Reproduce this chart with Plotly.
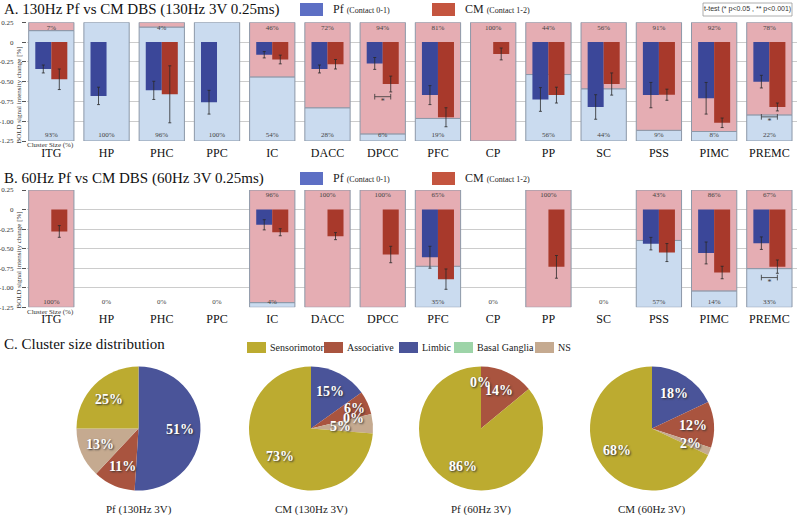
import math
import plotly.graph_objects as go

# ---------------------------------------------------------------------------
# data
# ---------------------------------------------------------------------------
regions = ['ITG', 'HP', 'PHC', 'PPC', 'IC', 'DACC', 'DPCC', 'PFC', 'CP', 'PP', 'SC', 'PSS', 'PIMC', 'PREMC']

# A. 130Hz
pf_130 = [-0.34, -0.68, -0.61, -0.76, -0.16, -0.34, -0.27, -0.67, None, -0.725, -0.82, -0.67, -0.71, -0.50]
pf_130_err = [0.05, 0.11, 0.115, 0.15, 0.04, 0.05, 0.075, 0.12, None, 0.15, 0.155, 0.16, 0.2, 0.08]
cm_130 = [-0.47, None, -0.66, None, -0.22, -0.28, -0.53, -0.95, -0.15, -0.67, -0.53, -0.665, -1.02, -0.82]
cm_130_err = [0.13, None, 0.36, None, 0.055, 0.06, 0.1, 0.12, 0.075, 0.1, 0.14, 0.07, 0.06, 0.05]
clus_pf_130 = [93, 100, 96, 100, 54, 28, 6, 19, 0, 56, 44, 9, 8, 22]
clus_cm_130 = [7, 0, 4, 0, 46, 72, 94, 81, 100, 44, 56, 91, 92, 78]
top_txt_130 = ['7%', '', '4%', '', '46%', '72%', '94%', '81%', '100%', '44%', '56%', '91%', '92%', '78%']
bot_txt_130 = ['93%', '100%', '96%', '100%', '54%', '28%', '6%', '19%', '', '56%', '44%', '9%', '8%', '22%']
sig_130 = [('DPCC', -0.69), ('PREMC', -0.945)]

# B. 60Hz
pf_60 = [None, None, None, None, -0.195, None, None, -0.61, None, None, None, -0.436, -0.555, -0.43]
pf_60_err = [None, None, None, None, 0.065, None, None, 0.14, None, None, None, 0.08, 0.14, 0.08]
cm_60 = [-0.28, None, None, None, -0.29, -0.34, -0.575, -0.89, None, -0.733, None, -0.55, -0.805, -0.73]
cm_60_err = [0.075, None, None, None, 0.045, 0.045, 0.105, 0.13, None, 0.145, None, 0.115, 0.08, 0.085]
clus_pf_60 = [0, 0, 0, 0, 4, 0, 0, 35, 0, 0, 0, 57, 14, 33]
clus_cm_60 = [100, 0, 0, 0, 96, 100, 100, 65, 0, 100, 0, 43, 86, 67]
top_txt_60 = ['', '', '', '', '96%', '100%', '100%', '65%', '', '100%', '', '43%', '86%', '67%']
bot_txt_60 = ['100%', '0%', '0%', '0%', '4%', '', '', '35%', '0%', '', '0%', '57%', '14%', '33%']
sig_60 = [('PREMC', -0.87)]

y_ticks = [0.25, 0, -0.25, -0.5, -0.75, -1.0, -1.25]
y_ticktext = ['0.25', '0', '-0.25', '-0.50', '-0.75', '-1.00', '-1.25']

# C. pies (clockwise from 12 o'clock)
pie_labels = ['Limbic', 'Associative', 'Basal Ganglia', 'NS', 'Sensorimotor']
pie_pf_130 = [51, 11, 0, 13, 25]
pie_cm_130 = [15, 6, 0, 5, 73]
pie_pf_60 = [0, 14, 0, 0, 86]
pie_cm_60 = [18, 12, 0, 2, 68]
pie_titles = ['Pf (130Hz 3V)', 'CM (130Hz 3V)', 'Pf (60Hz 3V)', 'CM (60Hz 3V)']
pie_zero_shown = [(1, 'Basal Ganglia'), (2, 'Limbic')]

# ---------------------------------------------------------------------------
# style
# ---------------------------------------------------------------------------
W, H = 800, 515
SERIF = 'Liberation Serif'
SANS = 'Liberation Sans'
PF_COL = '#3b4799'
CM_COL = '#a8392b'
PF_LEG = '#5d6fc4'
CM_LEG = '#c4553f'
BG_BLUE = '#cadbef'
BG_PINK = '#e5adb3'
EDGE = '#8c98a8'
pie_colors = {'Sensorimotor': '#bcab30', 'Associative': '#a9543f', 'Limbic': '#4a5499',
              'Basal Ganglia': '#9dd4a8', 'NS': '#c5aa90'}


def px(x):
    return x / W


def py(y):
    return 1 - y / H


def note(x, y, text, size, color='#222', family=SERIF, xanchor='center', **kw):
    # paper-anchored annotation placed by pixel position
    return dict(x=px(x), y=py(y), xref='paper', yref='paper', text=text, showarrow=False,
                xanchor=xanchor, yanchor='middle', font=dict(family=family, size=size, color=color), **kw)


fig = go.Figure()
xs = list(range(len(regions)))

panels = [
    dict(xa='x', ya='y', pf=pf_130, pf_err=pf_130_err, cm=cm_130, cm_err=cm_130_err,
         blue=clus_pf_130, pink=clus_cm_130, top=top_txt_130, bot=bot_txt_130, sig=sig_130),
    dict(xa='x2', ya='y2', pf=pf_60, pf_err=pf_60_err, cm=cm_60, cm_err=cm_60_err,
         blue=clus_pf_60, pink=clus_cm_60, top=top_txt_60, bot=bot_txt_60, sig=sig_60),
]

for p in panels:
    ax = dict(xaxis=p['xa'], yaxis=p['ya'], showlegend=False, hoverinfo='skip')
    blue_h = [1.5 * b / 100 if b else None for b in p['blue']]
    pink_base = [-1.25 + 1.5 * b / 100 for b in p['blue']]
    pink_h = [1.5 * k / 100 if k else None for k in p['pink']]
    # cluster size background boxes
    fig.add_bar(x=xs, y=blue_h, base=-1.25, width=0.82, offset=-0.41,
                marker=dict(color=BG_BLUE, line=dict(color=EDGE, width=1)), **ax)
    fig.add_bar(x=xs, y=pink_h, base=pink_base, width=0.82, offset=-0.41,
                marker=dict(color=BG_PINK, line=dict(color=EDGE, width=1)), **ax)
    # signal change bars
    fig.add_bar(x=xs, y=p['pf'], width=0.29, offset=-0.29, marker=dict(color=PF_COL, line=dict(width=0)),
                error_y=dict(type='data', array=p['pf_err'], color='#2a2a2a', thickness=0.8, width=1.5), **ax)
    fig.add_bar(x=xs, y=p['cm'], width=0.29, offset=0, marker=dict(color=CM_COL, line=dict(width=0)),
                error_y=dict(type='data', array=p['cm_err'], color='#2a2a2a', thickness=0.8, width=1.5), **ax)
    # cluster size labels
    fig.add_scatter(x=xs, y=[0.18] * len(xs), mode='text', text=p['top'],
                    textfont=dict(family=SERIF, size=7, color='#444'), **ax)
    fig.add_scatter(x=xs, y=[-1.18] * len(xs), mode='text', text=p['bot'],
                    textfont=dict(family=SERIF, size=7, color='#444'), **ax)
    # significance brackets
    for reg, yb in p['sig']:
        i = regions.index(reg)
        fig.add_scatter(x=[i - 0.145, i + 0.145], y=[yb, yb], mode='lines+markers',
                        line=dict(color='#333', width=0.8),
                        marker=dict(symbol='line-ns-open', size=4, line=dict(color='#333', width=0.8)), **ax)
        fig.add_scatter(x=[i], y=[yb - 0.065], mode='text', text=['*'],
                        textfont=dict(family=SERIF, size=8, color='#333'), **ax)

# pies
pie_sets = [pie_pf_130, pie_cm_130, pie_pf_60, pie_cm_60]
pie_cx = [138.5, 311, 481, 652]
pie_cy = 428.5
R = 62
label_r = 0.67
label_r_over = {(1, 1): 0.77, (1, 2): 0.7, (1, 3): 0.47, (2, 0): 0.75}

annotations = []
for k, vals in enumerate(pie_sets):
    cx = pie_cx[k]
    fig.add_trace(go.Pie(values=vals, labels=pie_labels, sort=False, direction='clockwise', rotation=0,
                         marker=dict(colors=[pie_colors[l] for l in pie_labels], line=dict(width=0)),
                         textinfo='none', hoverinfo='label+value', showlegend=False,
                         domain=dict(x=[px(cx - R), px(cx + R)], y=[py(pie_cy + R), py(pie_cy - R)])))
    total = sum(vals)
    cum = 0
    for j, v in enumerate(vals):
        mid = (cum + v / 2) / total
        cum += v
        if v == 0 and (k, pie_labels[j]) not in pie_zero_shown:
            continue
        r = label_r_over.get((k, j), label_r) * R
        ang = 2 * math.pi * mid
        annotations.append(note(cx + r * math.sin(ang), pie_cy - r * math.cos(ang), f'<b>{v}%</b>', 14,
                                color='white'))
        annotations[-1]['font']['shadow'] = '1px 1px 2px #333'
    annotations.append(note(cx, 509, pie_titles[k], 11))

# titles
for txt, y in [('A. 130Hz Pf vs CM DBS (130Hz 3V 0.25ms)', 9),
               ('B. 60Hz Pf vs CM DBS (60Hz 3V 0.25ms)', 178),
               ('C. Cluster size distribution', 344)]:
    annotations.append(note(2, y, txt, 15, color='#111', xanchor='left'))

# y titles and cluster size captions
for yc, yl in [(95, 145), (260, 311.5)]:
    annotations.append(note(18.5, yc, 'BOLD signal intensity change [%]', 7, color='#333', textangle=-90))
    annotations.append(note(50, yl, 'Cluster Size (%)', 7, color='#333'))

# bar legends
shapes = []
for ytop in [3, 172]:
    for x0, col, name, sub in [(300, PF_LEG, 'Pf', '(Contact 0-1)'), (432, CM_LEG, 'CM', '(Contact 1-2)')]:
        shapes.append(dict(type='rect', xref='paper', yref='paper', x0=px(x0), x1=px(x0 + 23),
                           y0=py(ytop + 13), y1=py(ytop), fillcolor=col, line=dict(width=0)))
        annotations.append(note(x0 + 31, ytop + 6.5,
                                f"{name} <span style='font-size:8px;color:#222'>{sub}</span>", 12,
                                xanchor='left'))

# t-test box
shapes.append(dict(type='rect', xref='paper', yref='paper', x0=px(703), x1=px(792), y0=py(16), y1=py(3),
                   line=dict(color='#999', width=0.8), fillcolor='white'))
annotations.append(note(747.5, 9.5, 't-test (* p<0.05 , ** p<0.001)', 7, color='#333', family=SANS))

# pie legend
for x0, lab in [(247, 'Sensorimotor'), (324, 'Associative'), (399, 'Limbic'),
                (454, 'Basal Ganglia'), (535, 'NS')]:
    shapes.append(dict(type='rect', xref='paper', yref='paper', x0=px(x0), x1=px(x0 + 19),
                       y0=py(353), y1=py(342), fillcolor=pie_colors[lab], line=dict(width=0)))
    annotations.append(note(x0 + 21, 347.5, lab, 10, xanchor='left'))

x_dom = [px(27), px(797)]
xcommon = dict(range=[-0.44, 13.5], tickvals=xs, ticktext=regions, showgrid=False, zeroline=False,
               ticks='', showline=False, tickfont=dict(family=SERIF, size=12, color='#111'),
               ticklabelstandoff=3, fixedrange=True)
ycommon = dict(range=[-1.25, 0.25], tickvals=y_ticks, ticktext=y_ticktext, showgrid=True,
               gridcolor='#cccccc', gridwidth=1, zeroline=False, ticks='outside', ticklen=4,
               tickcolor='#555', tickfont=dict(family=SERIF, size=7, color='#333'), showline=False,
               ticklabelstandoff=7)

fig.update_layout(
    width=W, height=H, margin=dict(l=0, r=0, t=0, b=0, autoexpand=False),
    paper_bgcolor='white', plot_bgcolor='white', barmode='overlay', showlegend=False,
    xaxis=dict(domain=x_dom, anchor='y', **xcommon),
    yaxis=dict(domain=[py(141), py(22.3)], anchor='x', **ycommon),
    xaxis2=dict(domain=x_dom, anchor='y2', **xcommon),
    yaxis2=dict(domain=[py(307.3), py(190)], anchor='x2', **ycommon),
    annotations=annotations, shapes=shapes,
)

fig.write_html("out.html", config={'displayModeBar': False},
               post_script="document.body.style.margin='0';document.body.style.overflow='hidden';")
